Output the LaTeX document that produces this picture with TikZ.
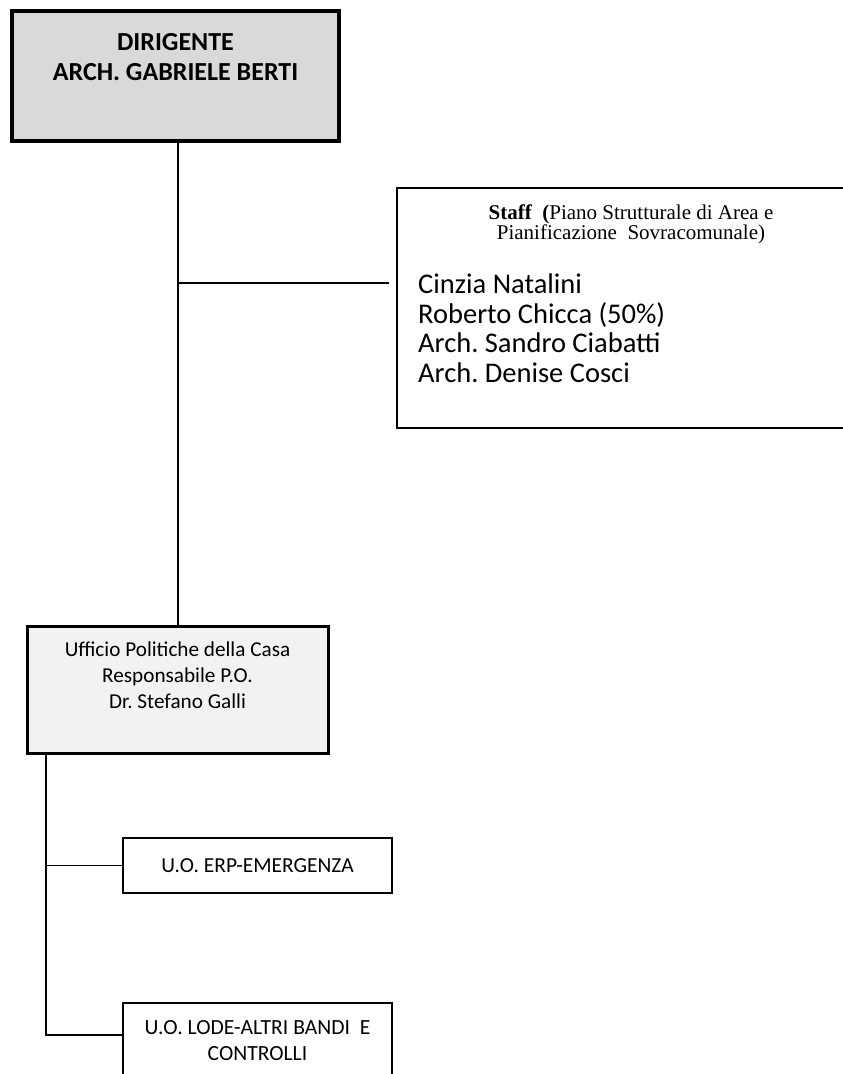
\documentclass[tikz,border=0pt]{standalone}
\usepackage{fontspec}
\setmainfont{Carlito}
\newfontfamily\timesfont{Liberation Serif}
\usetikzlibrary{positioning}
\frenchspacing

\begin{document}
\begin{tikzpicture}[x=1pt, y=-1pt]
    \tikzset{
        bossbox/.style={draw, line width=4pt, fill=gray!30, minimum width=327pt, minimum height=130pt, inner sep=0pt},
        officebox/.style={draw, line width=3pt, fill=gray!10, minimum width=301pt, minimum height=127pt, inner sep=0pt},
        unitbox/.style={draw, line width=2pt, fill=white, minimum width=269pt, inner sep=0pt},
        staffbox/.style={draw, line width=1.5pt, fill=white, minimum width=460pt, minimum height=240pt, inner sep=0pt},
        boxtext/.style={align=center, inner sep=0pt, anchor=north},
        link/.style={line width=1.5pt}
    }

    \clip (0,0) rectangle (843,1074);
    \fill[white] (0,0) rectangle (843,1074);

    % dirigente
    \node[bossbox] (dir) at (175.5,76) {};
    \node[boxtext, font=\fontsize{26}{30}\selectfont\bfseries] (dirtxt) at (175.5,33.5) {DIRIGENTE\\ARCH. GABRIELE BERTI};

    % staff
    \node[staffbox] (staff) at (627,308) {};
    \node[boxtext, font=\timesfont\fontsize{21}{20.5}\selectfont] (stafftitle) at (631,204.5)
        {\textbf{Staff\ \ (}Piano Strutturale di Area e\\Pianificazione\ \ Sovracomunale)};
    \node[inner sep=0pt, anchor=north west, align=left, font=\fontsize{28.5}{29.5}\selectfont] (staffnames) at (418,274)
        {Cinzia Natalini\\Roberto Chicca (50\%)\\Arch. Sandro Ciabatti\\Arch. Denise Cosci};

    % ufficio
    \node[officebox] (uff) at (177.5,689.5) {};
    \node[boxtext, font=\fontsize{21.2}{26}\selectfont] (ufftxt) at (177.5,642)
        {Ufficio Politiche della Casa\\Responsabile P.O.\\Dr. Stefano Galli};

    % unita operative
    \node[unitbox, minimum height=55pt, font=\fontsize{21.4}{26}\selectfont] (erp) at (257.5,865.5) {U.O. ERP-EMERGENZA};
    \node[unitbox, minimum height=90pt] (lode) at (257.5,1048) {};
    \node[boxtext, font=\fontsize{21.6}{26.5}\selectfont] (lodetxt) at (257.5,1020) {U.O. LODE-ALTRI BANDI\ \ E\\CONTROLLI};

    % connectors
    \coordinate (trunk) at (178,0);
    \coordinate (sub) at (46,0);
    \draw[link] (trunk |- dir.south) -- (trunk |- uff.north);
    \draw[link] (trunk |- 0,283) -- ([xshift=-7pt]staff.west |- 0,283);
    \draw[link] (sub |- uff.south) -- (sub |- 0,1035) -- (lode.west |- 0,1035);
    \draw[link] (sub |- erp.west) -- (erp.west);
\end{tikzpicture}
\end{document}
